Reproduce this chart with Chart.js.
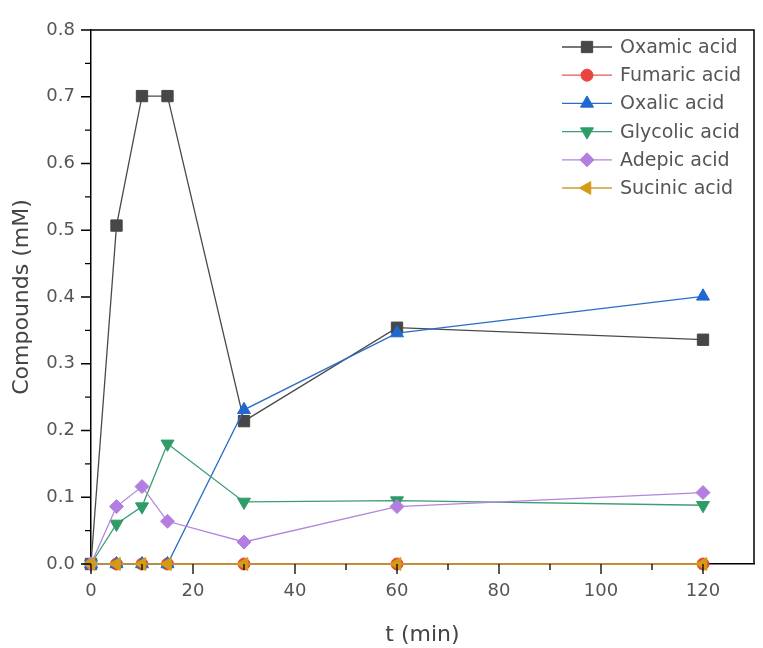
<!DOCTYPE html>
<html><head><meta charset="utf-8">
<script src="https://cdn.jsdelivr.net/npm/chart.js@4/dist/chart.umd.min.js"></script>
<style>html,body{margin:0;padding:0;background:#fff}#wrap{width:763px;height:648px}</style>
</head><body><div id="wrap"><canvas id="c" width="763" height="648"></canvas></div>
<script>
// ---- data ----
const times = [0, 5, 10, 15, 30, 60, 120];
const seriesNames = ['Oxamic acid', 'Fumaric acid', 'Oxalic acid', 'Glycolic acid', 'Adepic acid', 'Sucinic acid'];
const oxamic   = [0, 0.507, 0.701, 0.701, 0.214, 0.354, 0.336];
const fumaric  = [0, 0, 0, 0, 0, 0, 0];
const oxalic   = [0, 0, 0, 0, 0.231, 0.346, 0.401];
const glycolic = [0, 0.060, 0.086, 0.180, 0.093, 0.095, 0.088];
const adepic   = [0, 0.086, 0.116, 0.064, 0.033, 0.086, 0.107];
const sucinic  = [0, 0, 0, 0, 0, 0, 0];
const xTicks = [0, 20, 40, 60, 80, 100, 120];
const yTicks = [0, 0.1, 0.2, 0.3, 0.4, 0.5, 0.6, 0.7, 0.8];
const xTitle = 't (min)';
const yTitle = 'Compounds (mM)';

// ---- styles ----
const seriesValues = [oxamic, fumaric, oxalic, glycolic, adepic, sucinic];
const fills  = ['#474747', '#e8453c', '#2068d0', '#2f9c68', '#b47ee0', '#d49c12'];
const lines  = ['#4a4a4a', '#e05a55', '#2a6cc8', '#3a9e70', '#b285dc', '#c9a032'];
const shapes = ['rect', 'circle', 'triangle', 'triangle', 'rectRot', 'triangle'];
const rots   = [0, 0, 0, 180, 0, 270];
const radii  = [8, 6, 7.5, 7.5, 7, 7.5];
const FONT = "'DejaVu Sans', sans-serif";

const datasets = seriesNames.map((name, i) => ({
  label: name,
  data: times.map((t, j) => ({x: t, y: seriesValues[i][j]})),
  borderColor: lines[i],
  borderWidth: 1.3,
  backgroundColor: fills[i],
  pointBackgroundColor: fills[i],
  pointBorderColor: fills[i],
  pointBorderWidth: 1,
  pointStyle: shapes[i],
  pointRotation: rots[i],
  pointRadius: radii[i],
  pointHoverRadius: radii[i],
  tension: 0,
  fill: false,
  clip: false,
  order: seriesNames.length - i
}));

const decor = {
  id: 'decor',
  afterDraw(chart) {
    const ctx = chart.ctx;
    const a = chart.chartArea;
    const xs = chart.scales.x, ys = chart.scales.y;
    ctx.save();
    ctx.strokeStyle = '#000';
    ctx.lineWidth = 1.5;
    // frame top and right
    ctx.beginPath();
    ctx.moveTo(a.left, a.top); ctx.lineTo(a.right, a.top); ctx.lineTo(a.right, a.bottom);
    ctx.stroke();
    // ticks
    ctx.lineWidth = 1.3;
    ctx.beginPath();
    xTicks.forEach(v => { const p = xs.getPixelForValue(v); ctx.moveTo(p, a.bottom); ctx.lineTo(p, a.bottom + 10); });
    for (let k = 0; k < xTicks.length; k++) {
      const v = xTicks[k] + (xTicks[1] - xTicks[0]) / 2;
      if (v < xs.max) { const p = xs.getPixelForValue(v); ctx.moveTo(p, a.bottom); ctx.lineTo(p, a.bottom + 6); }
    }
    yTicks.forEach(v => { const p = ys.getPixelForValue(v); ctx.moveTo(a.left, p); ctx.lineTo(a.left - 10, p); });
    for (let k = 0; k < yTicks.length - 1; k++) {
      const v = (yTicks[k] + yTicks[k + 1]) / 2;
      const p = ys.getPixelForValue(v); ctx.moveTo(a.left, p); ctx.lineTo(a.left - 6, p);
    }
    ctx.stroke();
    // legend
    const lx0 = 562, lx1 = 612, tx = 620, y0 = 47, dy = 28.2;
    ctx.font = "19px " + FONT;
    ctx.textBaseline = 'middle';
    ctx.textAlign = 'left';
    seriesNames.forEach((name, i) => {
      const y = y0 + i * dy;
      ctx.strokeStyle = lines[i];
      ctx.lineWidth = 1.3;
      ctx.beginPath(); ctx.moveTo(lx0, y); ctx.lineTo(lx1, y); ctx.stroke();
      ctx.fillStyle = fills[i];
      ctx.strokeStyle = fills[i];
      ctx.lineWidth = 1;
      Chart.helpers.drawPoint(ctx, {pointStyle: shapes[i], rotation: rots[i], radius: radii[i], borderWidth: 1}, (lx0 + lx1) / 2, y);
      ctx.fillStyle = '#555';
      ctx.fillText(name, tx, y + 1);
    });
    ctx.restore();
  }
};

new Chart(document.getElementById('c'), {
  type: 'line',
  data: {datasets},
  options: {
    responsive: false,
    animation: false,
    devicePixelRatio: 1,
    layout: {padding: {top: 30, right: 6, left: 0, bottom: 0}},
    plugins: {legend: {display: false}, tooltip: {enabled: false}},
    scales: {
      x: {
        type: 'linear', min: 0, max: 130,
        afterBuildTicks: s => { s.ticks = xTicks.map(v => ({value: v})); },
        afterFit: s => { s.height = 84; },
        ticks: {font: {family: FONT, size: 18}, color: '#555', padding: 7, maxRotation: 0,
                callback: v => String(v)},
        grid: {display: true, drawOnChartArea: false, drawTicks: true, tickLength: 10, tickColor: 'rgba(0,0,0,0)'},
        border: {display: true, color: '#000', width: 1.5},
        title: {display: true, text: xTitle, font: {family: FONT, size: 22}, color: '#444', padding: {top: 0, bottom: 0}}
      },
      y: {
        type: 'linear', min: 0, max: 0.8,
        afterBuildTicks: s => { s.ticks = yTicks.map(v => ({value: v})); },
        afterFit: s => { s.width = 91; },
        ticks: {font: {family: FONT, size: 18}, color: '#555', padding: 6,
                callback: v => Number(v).toFixed(1)},
        grid: {display: true, drawOnChartArea: false, drawTicks: true, tickLength: 10, tickColor: 'rgba(0,0,0,0)'},
        border: {display: true, color: '#000', width: 1.5},
        title: {display: true, text: yTitle, font: {family: FONT, size: 22}, color: '#444', padding: {top: 9, bottom: 0}}
      }
    }
  },
  plugins: [decor]
});
</script>
</body></html>
